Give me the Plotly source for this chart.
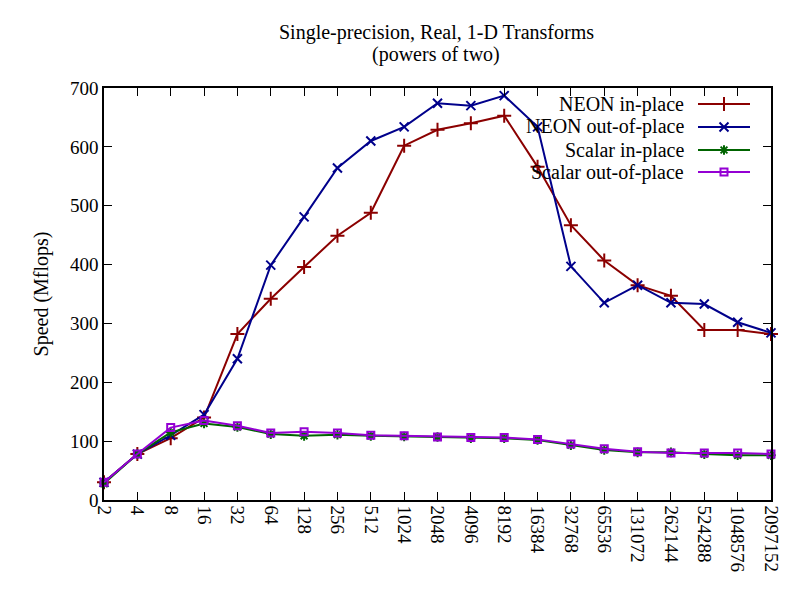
import plotly.graph_objects as go

sizes = ["2", "4", "8", "16", "32", "64", "128", "256", "512", "1024", "2048", "4096",
         "8192", "16384", "32768", "65536", "131072", "262144", "524288", "1048576", "2097152"]

neon_in = [30, 78, 105, 140, 282, 342, 396, 449, 488, 602, 629, 640, 653, 566, 467, 407,
           365, 347, 289, 289, 282]
neon_out = [30, 78, 110, 145, 240, 399, 481, 564, 610, 634, 674, 670, 687, 634, 397, 335,
            365, 335, 333, 302, 284]
scalar_in = [28, 78, 115, 130, 124, 112, 109, 111, 109, 108, 107, 105, 105, 102, 93, 85,
             81, 81, 78, 76, 76]
scalar_out = [30, 78, 123, 135, 126, 114, 116, 114, 110, 109, 107, 106, 106, 103, 95, 87,
              82, 80, 80, 80, 78]

series = [
    ("NEON in-place", neon_in, "#8b0000", "cross-thin-open", 10),
    ("NEON out-of-place", neon_out, "#00008b", "x-thin-open", 9),
    ("Scalar in-place", scalar_in, "#006400", "asterisk-open", 8),
    ("Scalar out-of-place", scalar_out, "#9400d3", "square-open", 7),
]

FONT = "Liberation Serif, Times New Roman, serif"
OFF = 8  # page body margin
W, H = 800 - OFF, 600 - OFF
L, R, T, B = 104 - OFF, 771 - OFF, 88 - OFF, 500 - OFF

fig = go.Figure()

for name, vals, col, sym, ms in series:
    fig.add_trace(go.Scatter(
        x=sizes, y=vals, mode="lines+markers", name=name,
        line=dict(color=col, width=2),
        marker=dict(symbol=sym, size=ms, color=col, line=dict(color=col, width=2)),
        cliponaxis=False, showlegend=False,
    ))

def px(x):
    return (x - OFF - L) / (R - L)
def py(y):
    return (B - (y - OFF)) / (B - T)

rows = [104, 127, 150, 172]
for (name, vals, col, sym, ms), ry in zip(series, rows):
    fig.add_annotation(x=px(686), y=py(ry), xref="paper", yref="paper", text=name,
                       showarrow=False, xanchor="right", yanchor="middle",
                       font=dict(family=FONT, size=20, color="black"))
    fig.add_shape(type="line", xref="paper", yref="paper",
                  x0=px(698), x1=px(750), y0=py(ry), y1=py(ry),
                  line=dict(color=col, width=2))
    fig.add_trace(go.Scatter(
        x=[px(724)], y=[py(ry)], xaxis="x2", yaxis="y2", mode="markers",
        marker=dict(symbol=sym, size=ms, color=col, line=dict(color=col, width=2)),
        showlegend=False, hoverinfo="skip", cliponaxis=False,
    ))

# Title lines
for txt, ty in [("Single-precision, Real, 1-D Transforms", 32), ("(powers of two)", 55)]:
    fig.add_annotation(x=px(436), y=py(ty), xref="paper", yref="paper", text=txt,
                       showarrow=False, xanchor="center", yanchor="middle",
                       font=dict(family=FONT, size=20, color="black"))

fig.update_layout(
    width=W, height=H,
    margin=dict(l=L, r=W - R, t=T, b=H - B),
    paper_bgcolor="white", plot_bgcolor="white",
    font=dict(family=FONT, size=19, color="black"),
    xaxis=dict(type="category", range=[0, len(sizes) - 1], tickangle=90,
               ticks="inside", ticklen=8, tickwidth=1, tickcolor="black",
               showline=True, linecolor="black", linewidth=1.5, mirror="allticks",
               showgrid=False, zeroline=False, automargin=False,
               tickfont=dict(family=FONT, size=19)),
    yaxis=dict(range=[0, 700], dtick=100, ticks="inside", ticklen=8, tickwidth=1,
               tickcolor="black", showline=True, linecolor="black", linewidth=1.5,
               mirror="allticks", showgrid=False, zeroline=False, automargin=False,
               title=dict(text="Speed (Mflops)", font=dict(family=FONT, size=20), standoff=16),
               tickfont=dict(family=FONT, size=19)),
    xaxis2=dict(overlaying="x", range=[0, 1], visible=False),
    yaxis2=dict(overlaying="y", range=[0, 1], visible=False),
)

fig.write_html("out.html")
